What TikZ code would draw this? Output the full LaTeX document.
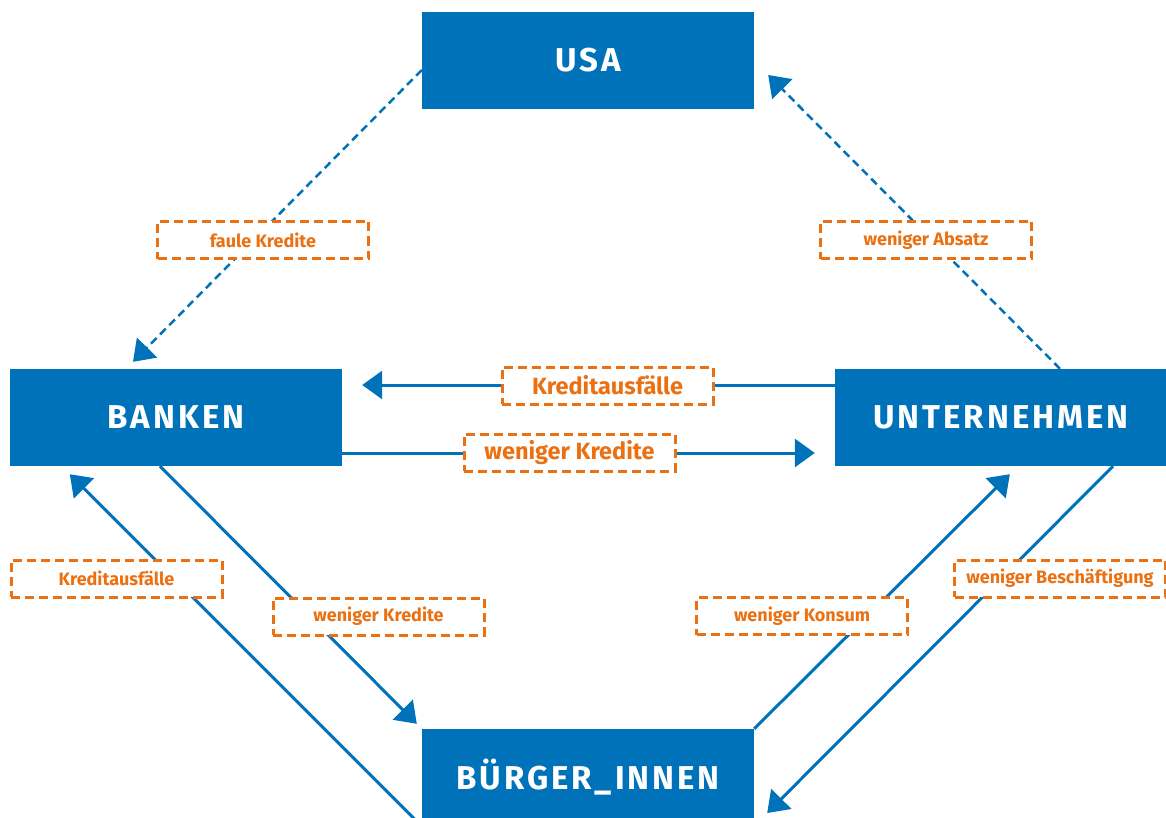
\documentclass[tikz,border=0pt]{standalone}
\usepackage{fontspec}
\setmainfont{Fira Sans}
\newfontfamily\titelfont[LetterSpace=9]{Fira Sans}
\usetikzlibrary{arrows.meta}
\definecolor{kblau}{RGB}{0,114,185}
\definecolor{korange}{RGB}{235,112,18}
\tikzstyle{akteur} = [fill=kblau, text=white, minimum width=332pt, minimum height=97pt, inner sep=0pt, font=\titelfont\bfseries\fontsize{33}{36}\selectfont]
\tikzstyle{hinweis} = [draw=korange, line width=3pt, dash pattern=on 9pt off 5pt, fill=white, text=korange, minimum width=211pt, minimum height=37pt, inner sep=0pt, font=\bfseries\fontsize{18}{20}\selectfont]
\tikzstyle{grosshinweis} = [hinweis, font=\bfseries\fontsize{23.5}{26}\selectfont]
\tikzstyle{fluss} = [draw=kblau, line width=3pt, -{Triangle[length=20pt,width=28pt]}]
\tikzstyle{gestrichelt} = [fluss, line width=2.5pt, dash pattern=on 8pt off 5pt]

\begin{document}
\begin{tikzpicture}[x=1pt, y=-1pt]
		\useasboundingbox (0,0) rectangle (1166,818);
		\clip (0,0) rectangle (1166,818);
		% Akteure
		\node[akteur] (usa) at (588,60.5) {USA};
		\node[akteur] (banken) at (176,417.5) {BANKEN};
		\node[akteur] (unternehmen) at (1001,417.5) {UNTERNEHMEN};
		\node[akteur] (buerger) at (588,777.5) {BÜRGER\_INNEN};
		% Verbindungen
		\draw[gestrichelt] ([yshift=-9.5pt]usa.west) -- ([xshift=-43pt,yshift=7pt]banken.north);
		\draw[gestrichelt] ([xshift=59pt]unternehmen.north) -- ([xshift=14pt,yshift=-14.5pt]usa.east);
		\draw[fluss] ([yshift=32.5pt]unternehmen.west) -- ([xshift=20pt,yshift=32.5pt]banken.east);
		\draw[fluss] ([yshift=-35.5pt]banken.east) -- ([xshift=-20pt,yshift=-35.5pt]unternehmen.west);
		\draw[fluss] (buerger.south west) -- ([xshift=60pt,yshift=-8pt]banken.south west);
		\draw[fluss] ([xshift=-16pt]banken.south) -- ([xshift=-5pt,yshift=5pt]buerger.north west);
		\draw[fluss] (buerger.north east) -- ([xshift=175pt,yshift=-8pt]unternehmen.south west);
		\draw[fluss] ([xshift=112pt]unternehmen.south) -- ([xshift=13pt,yshift=-35.5pt]buerger.east);
		% Beschriftungen
		\node[hinweis] (faul) at (263,240) {faule Kredite};
		\node[hinweis] (absatz) at (926,240) {weniger Absatz};
		\node[grosshinweis] (ausfallmitte) at (607.5,385.5) {Kreditausfälle};
		\node[grosshinweis] (kreditmitte) at (569.5,452.5) {weniger Kredite};
		\node[hinweis] (ausfalllinks) at (116.5,578.5) {Kreditausfälle};
		\node[hinweis] (kreditlinks) at (378.5,616.5) {weniger Kredite};
		\node[hinweis] (konsum) at (802,616) {weniger Konsum};
		\node[hinweis] (beschaeftigung) at (1060,578.5) {weniger Beschäftigung};
\end{tikzpicture}
\end{document}
